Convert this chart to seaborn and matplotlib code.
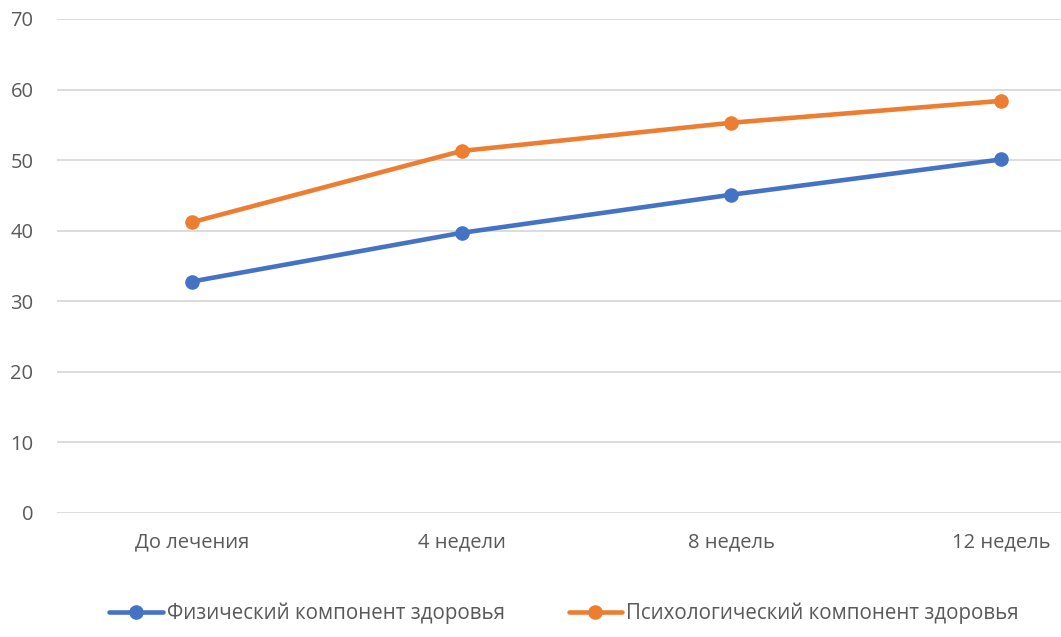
import matplotlib
matplotlib.use("Agg")
import matplotlib.pyplot as plt
import seaborn as sns
import pandas as pd

categories = ["До лечения", "4 недели", "8 недель", "12 недель"]
series_names = ["Физический компонент здоровья", "Психологический компонент здоровья"]
physical = [32.8, 39.7, 45.1, 50.1]
psychological = [41.2, 51.3, 55.3, 58.4]
yticks = [0, 10, 20, 30, 40, 50, 60, 70]
colors = ["#4472C4", "#ED7D31"]

df = pd.DataFrame({
    "cat": categories * 2,
    "value": physical + psychological,
    "series": [series_names[0]] * 4 + [series_names[1]] * 4,
})

sns.set_theme(style="white")
plt.rcParams["font.family"] = ["Open Sans", "DejaVu Sans"]

W, H = 1061, 637
fig = plt.figure(figsize=(W / 100, H / 100), dpi=100)
left, right, top, bottom = 57, 1136, 19, 513
ax = fig.add_axes([left / W, 1 - bottom / H, (right - left) / W, (bottom - top) / H])

sns.lineplot(data=df, x="cat", y="value", hue="series", palette=colors,
             marker="o", markersize=10.5, markeredgewidth=0, linewidth=3.3,
             ax=ax, legend=False, sort=False)

ax.set_xlim(-0.5, 3.5)
ax.set_ylim(0, 70)
ax.set_yticks(yticks)
ax.yaxis.grid(True, color="#D9D9D9", linewidth=1.3)
ax.set_axisbelow(True)
for s in ax.spines.values():
    s.set_visible(False)
ax.set_xlabel("")
ax.set_ylabel("")
ax.tick_params(axis="both", length=0, labelsize=14.5, colors="#595959")
ax.tick_params(axis="y", pad=17)
ax.tick_params(axis="x", pad=14)

handles = [plt.Line2D([], [], color=c, linewidth=3.3, marker="o", markersize=10.5, markeredgewidth=0)
           for c in colors]
fig.legend(handles, series_names, loc="center", bbox_to_anchor=(564 / W, 1 - 613 / H),
           ncol=2, frameon=False, fontsize=14.8, handlelength=2.6, handletextpad=0.2,
           columnspacing=3.1, labelcolor="#595959")

fig.savefig("out.png", dpi=100)
